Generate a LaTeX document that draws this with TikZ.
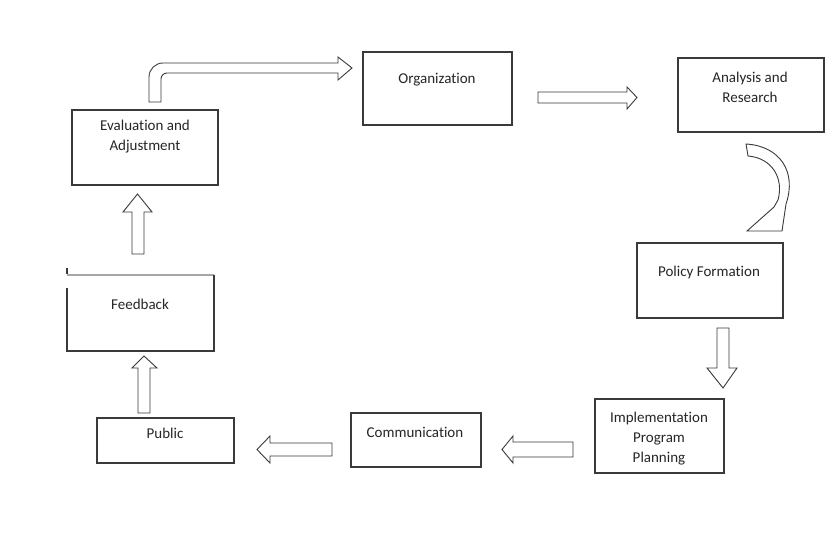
\documentclass[tikz,border=0pt]{standalone}
\usepackage{fontspec}
\setmainfont{Carlito}[RawFeature={-liga;-clig}]
\definecolor{ln}{HTML}{3A3A3A}
\definecolor{tx}{HTML}{262626}
\begin{document}
\begin{tikzpicture}[x=1pt,y=-1pt,
 box/.style={draw=ln,line width=1.1pt,inner sep=0pt,outer sep=0pt},
 lbl/.style={text=tx,font=\fontsize{15}{20}\selectfont,align=center,inner sep=0pt},
 blk/.style={draw=ln,line width=0.9pt,fill=white,line join=miter}]
\useasboundingbox[fill=white] (0,0) rectangle (837,534);

% boxes
\node[box,minimum width=146pt,minimum height=75pt] (eval) at (145,147.5) {};
\node[box,minimum width=149pt,minimum height=73pt] (org) at (437.5,88.5) {};
\node[box,minimum width=146pt,minimum height=74pt] (ana) at (751,95) {};
\node[box,minimum width=146pt,minimum height=75pt] (pol) at (710,280.5) {};
\node[box,minimum width=129pt,minimum height=74pt] (impl) at (659.5,436) {};
\node[box,minimum width=130pt,minimum height=54pt] (comm) at (416,440) {};
\node[box,minimum width=137pt,minimum height=45pt] (pub) at (165.5,440.5) {};
\node[inner sep=0pt,outer sep=0pt,minimum width=147pt,minimum height=76pt] (feed) at (140.5,313) {};
\draw[gray!70,line width=1.1pt] (feed.north west) -- (feed.north east);
\draw[ln,line width=1.1pt] (feed.north east) -- (feed.south east) -- (feed.south west) -- ([yshift=-13pt]feed.north west);
\draw[ln,line width=1.1pt] ([yshift=7pt]feed.north west) -- ([yshift=1pt]feed.north west);

% labels
\node[lbl] (evalT) at (145,137) {Evaluation and\\Adjustment};
\node[lbl] (orgT) at (437,80) {Organization};
\node[lbl] (anaT) at (750,87) {Analysis and\\Research};
\node[lbl] (polT) at (709,273) {Policy Formation};
\node[lbl] (implT) at (659,439) {Implementation\\Program\\Planning};
\node[lbl] (commT) at (415,432) {Communication};
\node[lbl] (pubT) at (165,433) {Public};
\node[lbl] (feedT) at (140,304) {Feedback};

% block arrows
\draw[blk] (149,102) -- (149,77) arc[start angle=180,end angle=270,radius=14] -- (338,63) -- (338,57) -- (352,68) -- (338,80) -- (338,73) -- (167,73) arc[start angle=270,end angle=180,radius=6] -- (161,102) -- cycle;
\draw[blk] (538,92) -- (627,92) -- (627,87) -- (637,97.5) -- (627,109) -- (627,103) -- (538,103) -- cycle;
\draw[blk] (746,144) .. controls (780,146) and (797,172) .. (786,204) -- (782,231) -- (747,231) -- (774,207) -- (778,200) .. controls (784,178) and (772,158) .. (748,156) -- cycle;
\draw[blk] (717,328) -- (729,328) -- (729,368) -- (737,368) -- (723,388) -- (707,368) -- (717,368) -- cycle;
\draw[blk] (573,442) -- (513,442) -- (513,436) -- (502,449.5) -- (513,463) -- (513,457) -- (573,457) -- cycle;
\draw[blk] (332,443) -- (270,443) -- (270,436) -- (257,449.5) -- (270,463) -- (270,456) -- (332,456) -- cycle;
\draw[blk] (138,413) -- (138,368) -- (132,368) -- (144,356) -- (157,368) -- (150,368) -- (150,413) -- cycle;
\draw[blk] (132,254) -- (132,212) -- (123,212) -- (137.5,194) -- (152,212) -- (144,212) -- (144,254) -- cycle;
\end{tikzpicture}
\end{document}
